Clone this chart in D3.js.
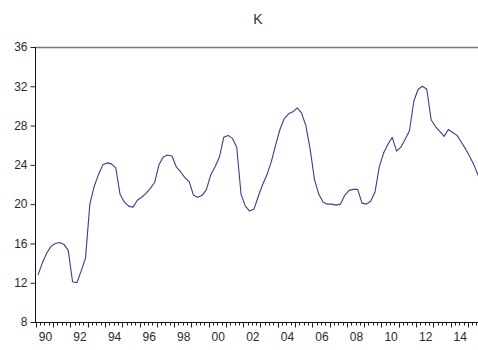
<!DOCTYPE html>
<html>
<head>
<meta charset="utf-8">
<script src="https://cdn.jsdelivr.net/npm/d3@7"></script>
<style>
  html, body { margin: 0; padding: 0; background: #fff; }
  svg { display: block; font-family: "Liberation Sans", Arial, sans-serif; }
</style>
</head>
<body>
<svg id="chart" width="478" height="350"></svg>
<script>
// Quarterly series K, starting 1990Q1
const seriesName = "K";
const startYear = 1990;
const kValues = [
  12.8, 14.0, 15.0, 15.7, 16.0, 16.1, 15.9, 15.3, 12.1, 12.0,
  13.2, 14.5, 20.0, 21.8, 23.0, 24.0, 24.2, 24.1, 23.7, 21.0,
  20.2, 19.8, 19.7, 20.4, 20.7, 21.1, 21.6, 22.2, 24.0, 24.8,
  25.0, 24.9, 23.8, 23.3, 22.7, 22.3, 20.9, 20.7, 20.9, 21.5,
  23.0, 23.8, 24.8, 26.8, 27.0, 26.7, 25.8, 21.0, 19.8, 19.3,
  19.5, 20.8, 22.0, 23.0, 24.3, 26.0, 27.6, 28.7, 29.2, 29.4,
  29.8, 29.3, 28.0, 25.6, 22.5, 21.0, 20.2, 20.0, 20.0, 19.9,
  20.0, 20.9, 21.4, 21.5, 21.5, 20.1, 20.0, 20.3, 21.2, 23.8,
  25.2, 26.1, 26.8, 25.4, 25.8, 26.6, 27.5, 30.5, 31.7, 32.0,
  31.7, 28.6, 27.9, 27.4, 26.9, 27.6, 27.3, 27.0, 26.3, 25.6,
  24.8, 23.9, 22.8
];
const yTicks = [8, 12, 16, 20, 24, 28, 32, 36];
const xLabelYears = [1990, 1992, 1994, 1996, 1998, 2000, 2002, 2004, 2006, 2008, 2010, 2012, 2014];
const xLabels = ["90", "92", "94", "96", "98", "00", "02", "04", "06", "08", "10", "12", "14"];

const svg = d3.select("#chart");
const frameLeft = 35, frameTop = 47, frameBottom = 322, frameRight = 478;

// time in years -> pixels (each quarter is a quarter-year step)
const x = d3.scaleLinear()
  .domain([startYear, startYear + 1])
  .range([38, 38 + 17.28]);
const y = d3.scaleLinear()
  .domain([8, 36])
  .range([frameBottom, frameTop]);

const points = kValues.map((v, i) => ({ t: startYear + i / 4, v }));

// Title
svg.append("text")
  .attr("x", 258).attr("y", 24)
  .attr("text-anchor", "middle")
  .attr("font-size", 14)
  .attr("fill", "#333")
  .text(seriesName);

// Top frame line
svg.append("line")
  .attr("x1", frameLeft).attr("x2", frameRight)
  .attr("y1", frameTop + 0.5).attr("y2", frameTop + 0.5)
  .attr("stroke", "#7a7a7a").attr("stroke-width", 1.5);

// Left axis
const yAxis = d3.axisLeft(y).tickValues(yTicks).tickSize(5).tickPadding(3);
const gy = svg.append("g")
  .attr("transform", `translate(${frameLeft + 0.5},0)`)
  .call(yAxis);
gy.select(".domain").attr("stroke", "#111")
  .attr("d", `M0,${frameTop}V${frameBottom + 0.5}`);
gy.selectAll(".tick line").attr("stroke", "#222");
gy.selectAll(".tick text")
  .attr("font-size", 12).attr("fill", "#2a2a2a")
  .attr("font-family", "'Liberation Sans', Arial, sans-serif");

// Bottom axis: quarterly minor ticks, yearly major ticks
const quarterTicks = d3.range(startYear, startYear + 26, 0.25);
const gx = svg.append("g").attr("transform", `translate(0,${frameBottom + 0.5})`);
gx.append("line")
  .attr("x1", frameLeft).attr("x2", frameRight)
  .attr("stroke", "#111").attr("stroke-width", 1);
gx.selectAll("line.tk")
  .data(quarterTicks)
  .join("line")
  .attr("class", "tk")
  .attr("x1", d => Math.round(x(d - 0.125)) + 0.5)
  .attr("x2", d => Math.round(x(d - 0.125)) + 0.5)
  .attr("y1", 0)
  .attr("y2", d => (Math.abs(d - Math.round(d)) < 1e-6 ? 5 : 3))
  .attr("stroke", "#222");
gx.selectAll("text")
  .data(xLabelYears)
  .join("text")
  .attr("x", d => x(d + 0.375) + 1)
  .attr("y", 18)
  .attr("text-anchor", "middle")
  .attr("font-size", 12)
  .attr("fill", "#2a2a2a")
  .text((d, i) => xLabels[i]);

// Series line
const line = d3.line()
  .x(d => x(d.t))
  .y(d => y(d.v));
svg.append("path")
  .datum(points)
  .attr("d", line)
  .attr("fill", "none")
  .attr("stroke", "#3c3c8c")
  .attr("stroke-width", 1.1)
  .attr("stroke-linejoin", "round");
</script>
</body>
</html>
